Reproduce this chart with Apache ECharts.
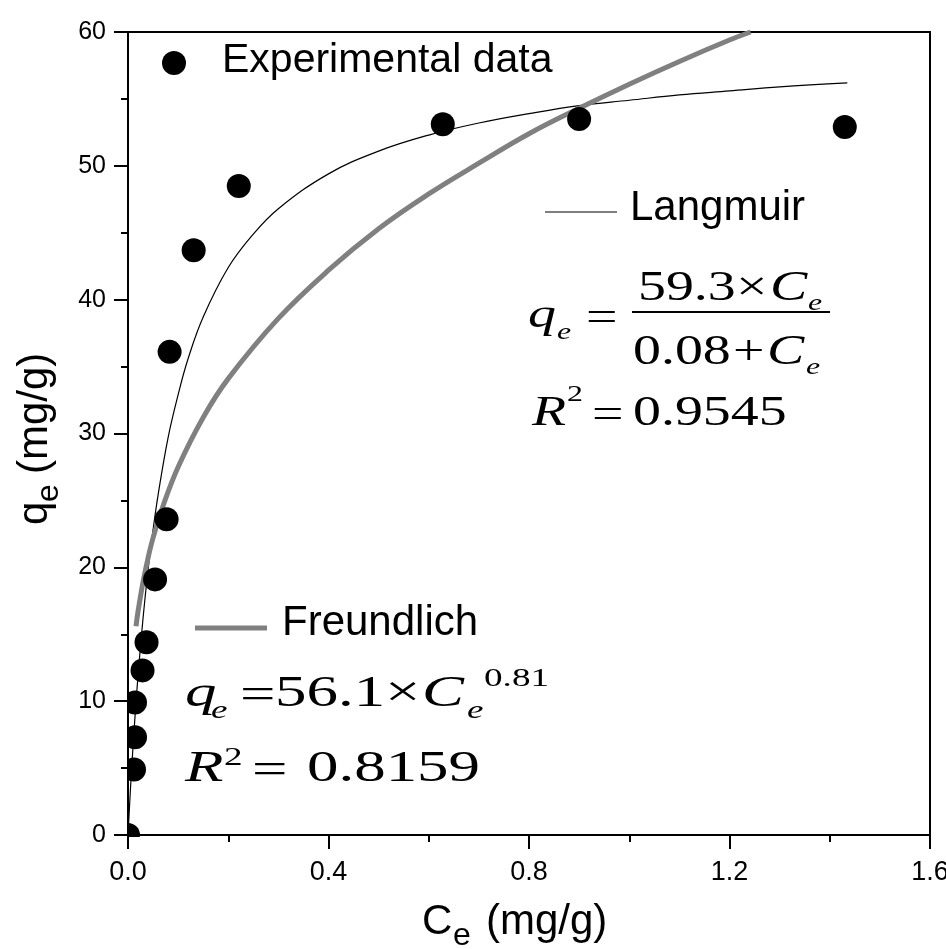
<!DOCTYPE html>
<html>
<head>
<meta charset="utf-8">
<script src="https://cdn.jsdelivr.net/npm/echarts@6/dist/echarts.min.js"></script>
<style>
  html, body { margin: 0; padding: 0; background: #fff; }
  #main { width: 946px; height: 949px; }
</style>
</head>
<body>
<div id="main"></div>
<script>
// experimental points (Ce, qe)
const expCe = [0, 0.012, 0.014, 0.014, 0.029, 0.037, 0.054, 0.077, 0.083, 0.131, 0.221, 0.628, 0.900, 1.43];
const expQe = [0, 4.9, 7.3, 9.9, 12.3, 14.4, 19.1, 23.6, 36.1, 43.7, 48.5, 53.1, 53.5, 52.9];

// Langmuir fit curve
const langCe = [0, 0.005, 0.01, 0.015, 0.02, 0.03, 0.04, 0.05, 0.06, 0.08, 0.1, 0.12, 0.15, 0.2, 0.25, 0.3, 0.4, 0.5, 0.6, 0.7, 0.8, 0.9, 1.0, 1.1, 1.2, 1.3, 1.435];
const langQe = [0, 3.5, 6.6, 9.4, 11.9, 16.2, 19.8, 22.8, 25.4, 29.7, 32.9, 35.6, 38.7, 42.4, 44.9, 46.8, 49.4, 51.1, 52.3, 53.2, 53.9, 54.5, 54.9, 55.3, 55.6, 55.9, 56.2];

// Freundlich fit curve
const freuCe = [0.016, 0.02, 0.03, 0.04, 0.05, 0.07, 0.1, 0.15, 0.2, 0.3, 0.4, 0.5, 0.6, 0.7, 0.8, 0.9, 1.0, 1.1, 1.2, 1.242];
const freuQe = [15.6, 16.7, 18.9, 20.7, 22.2, 24.6, 27.5, 31.2, 34.1, 38.6, 42.2, 45.3, 47.9, 50.2, 52.4, 54.3, 56.1, 57.8, 59.4, 60.0];

const xTicks = ['0.0', '0.4', '0.8', '1.2', '1.6'];
const yTicks = ['0', '10', '20', '30', '40', '50', '60'];

const SANS = 'Liberation Sans, Arial, sans-serif';
const SERIF = 'Liberation Serif, Times New Roman, serif';

function zip(a, b) {
  return a.map((v, i) => [v, b[i]]);
}

// text placed by its left edge and baseline
function txt(x, base, s, size, o) {
  o = o || {};
  return {
    type: 'text', x: x, y: base - 0.345 * size, z: 20,
    scaleX: o.sx || 1,
    style: {
      text: s, fontSize: size, fontFamily: o.font || SANS,
      fontStyle: o.italic ? 'italic' : 'normal',
      fill: '#000', align: 'left', verticalAlign: 'middle'
    }
  };
}

const L = { font: SERIF, sx: 1.33 };
const Li = { font: SERIF, sx: 1.33, italic: true };
const F = { font: SERIF, sx: 1.43 };
const Fi = { font: SERIF, sx: 1.43, italic: true };

const chart = echarts.init(document.getElementById('main'));

const option = {
  animation: false,
  grid: {
    left: 128, right: 16, top: 32, bottom: 114, outerBoundsMode: 'none',
    show: true, borderColor: '#000', borderWidth: 2, backgroundColor: 'transparent'
  },
  xAxis: {
    type: 'value', min: 0, max: 1.6, interval: 0.4, z: 10,
    axisLine: { lineStyle: { color: '#000', width: 2 } },
    axisTick: { length: 14, lineStyle: { color: '#000', width: 2 } },
    minorTick: { show: true, splitNumber: 2, length: 7, lineStyle: { color: '#000', width: 2 } },
    splitLine: { show: false },
    axisLabel: {
      color: '#000', fontSize: 27, fontFamily: SANS, margin: 24,
      formatter: v => xTicks[Math.round(v / 0.4)]
    }
  },
  yAxis: {
    type: 'value', min: 0, max: 60, interval: 10, z: 10,
    axisLine: { lineStyle: { color: '#000', width: 2 } },
    axisTick: { length: 14, lineStyle: { color: '#000', width: 2 } },
    minorTick: { show: true, splitNumber: 2, length: 7, lineStyle: { color: '#000', width: 2 } },
    splitLine: { show: false },
    axisLabel: {
      color: '#000', fontSize: 25, fontFamily: SANS, margin: 22,
      formatter: v => yTicks[Math.round(v / 10)]
    }
  },
  series: [
    {
      name: 'Langmuir', type: 'line', data: zip(langCe, langQe),
      showSymbol: false, smooth: 0.4, z: 2,
      lineStyle: { color: '#000', width: 1.2 }
    },
    {
      name: 'Freundlich', type: 'line', data: zip(freuCe, freuQe),
      showSymbol: false, smooth: 0.4, z: 2,
      lineStyle: { color: '#808080', width: 5 }
    },
    {
      name: 'Experimental data', type: 'scatter', data: zip(expCe, expQe),
      symbolSize: 24, clip: false, z: 3,
      itemStyle: { color: '#000', opacity: 1 }
    }
  ],
  graphic: [
    // white masks so markers are cut at the frame
    { type: 'rect', z: 5, silent: true, shape: { x: 0, y: 0, width: 127, height: 949 }, style: { fill: '#fff' } },
    { type: 'rect', z: 5, silent: true, shape: { x: 0, y: 837, width: 946, height: 112 }, style: { fill: '#fff' } },

    // legend bits
    { type: 'circle', z: 20, shape: { cx: 174, cy: 63, r: 12 }, style: { fill: '#000' } },
    txt(222, 75, 'Experimental data', 41),
    { type: 'line', z: 20, shape: { x1: 545, y1: 212, x2: 617, y2: 212 }, style: { stroke: '#000', lineWidth: 1.2 } },
    txt(630, 223, 'Langmuir', 42),
    { type: 'line', z: 20, shape: { x1: 195, y1: 628, x2: 267, y2: 628 }, style: { stroke: '#808080', lineWidth: 5 } },
    txt(282, 638, 'Freundlich', 42),

    // Langmuir equation
    txt(528, 330, 'q', 42, Li),
    txt(557, 341, 'e', 24, Li),
    txt(586, 333, '=', 42, L),
    txt(638, 303, '59.3', 42, L),
    txt(736, 303, '\u00d7', 42, L),
    txt(770, 303, 'C', 42, Li),
    txt(808, 312, 'e', 24, Li),
    { type: 'line', z: 20, shape: { x1: 632, y1: 312, x2: 830, y2: 312 }, style: { stroke: '#000', lineWidth: 2 } },
    txt(633, 367, '0.08', 42, L),
    txt(733, 367, '+', 42, L),
    txt(767, 367, 'C', 42, Li),
    txt(806, 376, 'e', 24, Li),
    txt(532, 428, 'R', 42, Li),
    txt(567, 403, '2', 24, L),
    txt(592, 430, '=', 42, L),
    txt(633, 428, '0.9545', 42, L),

    // Freundlich equation
    txt(185, 710, 'q', 44, Fi),
    txt(211, 720, 'e', 26, Fi),
    txt(240, 712, '=', 44, F),
    txt(275, 710, '56.1', 44, F),
    txt(385, 710, '\u00d7', 44, F),
    txt(422, 710, 'C', 44, Fi),
    txt(467, 720, 'e', 26, Fi),
    txt(484, 688, '0.81', 26, F),
    txt(185, 785, 'R', 44, Fi),
    txt(224, 767, '2', 26, F),
    txt(252, 787, '=', 44, F),
    txt(307, 785, '0.8159', 44, F),

    // axis titles
    txt(422, 937, 'C', 42),
    txt(453, 947, 'e', 32),
    txt(486, 937, '(mg/g)', 42),
    {
      type: 'group', x: 50, y: 525, rotation: Math.PI / 2, z: 20,
      children: [
        txt(0, 0, 'q', 42),
        txt(23, 10, 'e', 32),
        txt(51, 0, '(mg/g)', 42)
      ]
    }
  ]
};

chart.setOption(option);
console.log('chart drawn');
</script>
</body>
</html>
